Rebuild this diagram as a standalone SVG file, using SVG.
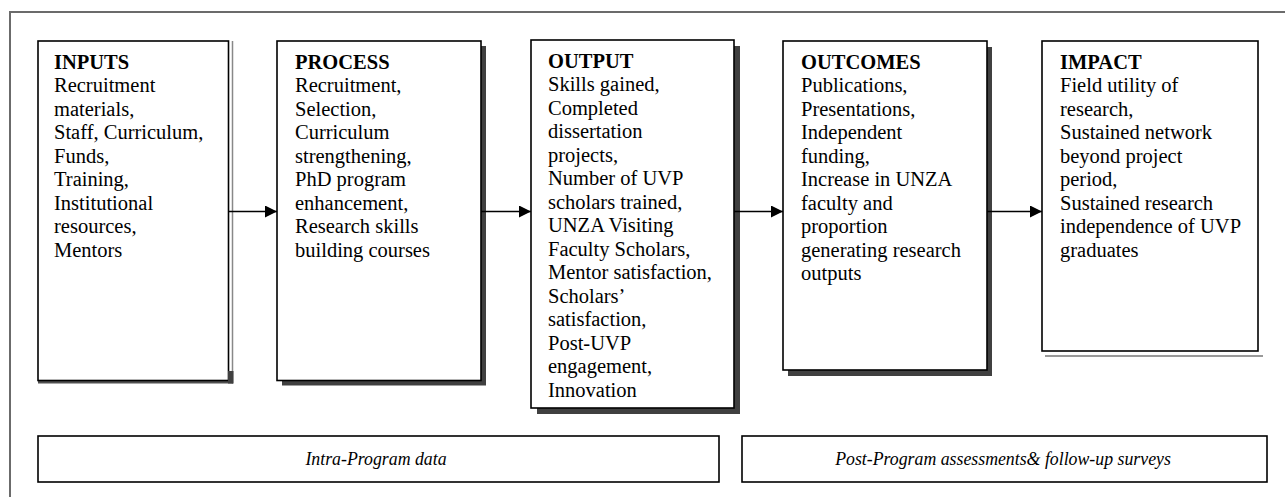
<svg xmlns="http://www.w3.org/2000/svg" width="1285" height="497" viewBox="0 0 1285 497">
<style>
.box{fill:#fff;stroke:#000;stroke-width:1.6}
.shadow{fill:#404040}
.t{font-family:"Liberation Serif","Times New Roman",serif;font-size:20.5px;fill:#000}
.h{font-weight:bold}
.lbl{font-family:"Liberation Serif","Times New Roman",serif;font-size:17.8px;font-style:italic;fill:#000}
.conn{stroke:#000;stroke-width:1.6;fill:none}
.frame{stroke:#6b6b6b;stroke-width:2;fill:none}
</style>
<defs>
<marker id="arr" viewBox="0 0 12 12" refX="12" refY="6" markerWidth="12" markerHeight="12" markerUnits="userSpaceOnUse" orient="auto">
<path d="M0,0 L12,6 L0,12 Z" fill="#000"/>
</marker>
</defs>
<rect width="1285" height="497" fill="#fff"/>
<path class="frame" d="M10,497 V12 H1285"/>

<g id="inputs">
<line x1="232.5" y1="41" x2="232.5" y2="383.5" stroke="#888" stroke-width="1.5"/>
<rect x="38" y="380" width="195" height="3.5" fill="#505050"/>
<rect x="38" y="41" width="190.5" height="339.5" class="box"/>
<rect x="228" y="371" width="5.5" height="12.5" fill="#404040"/>
<text class="t" x="54" y="68.5"><tspan class="h">INPUTS</tspan><tspan x="54" dy="23.5">Recruitment</tspan><tspan x="54" dy="23.5">materials,</tspan><tspan x="54" dy="23.5">Staff, Curriculum,</tspan><tspan x="54" dy="23.5">Funds,</tspan><tspan x="54" dy="23.5">Training,</tspan><tspan x="54" dy="23.5">Institutional</tspan><tspan x="54" dy="23.5">resources,</tspan><tspan x="54" dy="23.5">Mentors</tspan></text>
</g>

<g id="process">
<rect x="282" y="46" width="204" height="339.5" class="shadow"/>
<rect x="277" y="41" width="204" height="339.5" class="box"/>
<text class="t" x="295" y="68.5"><tspan class="h">PROCESS</tspan><tspan x="295" dy="23.5">Recruitment,</tspan><tspan x="295" dy="23.5">Selection,</tspan><tspan x="295" dy="23.5">Curriculum</tspan><tspan x="295" dy="23.5">strengthening,</tspan><tspan x="295" dy="23.5">PhD program</tspan><tspan x="295" dy="23.5">enhancement,</tspan><tspan x="295" dy="23.5">Research skills</tspan><tspan x="295" dy="23.5">building courses</tspan></text>
</g>

<g id="output">
<rect x="537" y="46" width="203" height="368" class="shadow"/>
<rect x="531" y="40" width="203" height="368" class="box"/>
<text class="t" x="548" y="67.5"><tspan class="h">OUTPUT</tspan><tspan x="548" dy="23.5">Skills gained,</tspan><tspan x="548" dy="23.5">Completed</tspan><tspan x="548" dy="23.5">dissertation</tspan><tspan x="548" dy="23.5">projects,</tspan><tspan x="548" dy="23.5">Number of UVP</tspan><tspan x="548" dy="23.5">scholars trained,</tspan><tspan x="548" dy="23.5">UNZA Visiting</tspan><tspan x="548" dy="23.5">Faculty Scholars,</tspan><tspan x="548" dy="23.5">Mentor satisfaction,</tspan><tspan x="548" dy="23.5">Scholars’</tspan><tspan x="548" dy="23.5">satisfaction,</tspan><tspan x="548" dy="23.5">Post-UVP</tspan><tspan x="548" dy="23.5">engagement,</tspan><tspan x="548" dy="23.5">Innovation</tspan></text>
</g>

<g id="outcomes">
<rect x="788" y="47" width="204" height="329" class="shadow"/>
<rect x="783" y="41" width="204" height="329" class="box"/>
<text class="t" x="801" y="68.5"><tspan class="h">OUTCOMES</tspan><tspan x="801" dy="23.5">Publications,</tspan><tspan x="801" dy="23.5">Presentations,</tspan><tspan x="801" dy="23.5">Independent</tspan><tspan x="801" dy="23.5">funding,</tspan><tspan x="801" dy="23.5">Increase in UNZA</tspan><tspan x="801" dy="23.5">faculty and</tspan><tspan x="801" dy="23.5">proportion</tspan><tspan x="801" dy="23.5">generating research</tspan><tspan x="801" dy="23.5">outputs</tspan></text>
</g>

<g id="impact">
<line x1="1045" y1="356" x2="1263" y2="356" stroke="#777" stroke-width="1.5"/>
<rect x="1042" y="41" width="216" height="310" class="box"/>
<text class="t" x="1060" y="68.5"><tspan class="h">IMPACT</tspan><tspan x="1060" dy="23.5">Field utility of</tspan><tspan x="1060" dy="23.5">research,</tspan><tspan x="1060" dy="23.5">Sustained network</tspan><tspan x="1060" dy="23.5">beyond project</tspan><tspan x="1060" dy="23.5">period,</tspan><tspan x="1060" dy="23.5">Sustained research</tspan><tspan x="1060" dy="23.5">independence of UVP</tspan><tspan x="1060" dy="23.5">graduates</tspan></text>
</g>

<g id="intra">
<rect x="38" y="436" width="681" height="46" class="box"/>
<text class="lbl" x="376" y="465" text-anchor="middle">Intra-Program data</text>
</g>

<g id="post">
<rect x="742" y="436" width="525" height="46" class="box"/>
<text class="lbl" x="1003" y="465" text-anchor="middle">Post-Program assessments&amp; follow-up surveys</text>
</g>

<g id="connectors">
<line class="conn" x1="229" y1="211.5" x2="277" y2="211.5" marker-end="url(#arr)"/>
<line class="conn" x1="481" y1="211.5" x2="531" y2="211.5" marker-end="url(#arr)"/>
<line class="conn" x1="734" y1="211.5" x2="783" y2="211.5" marker-end="url(#arr)"/>
<line class="conn" x1="987" y1="211.5" x2="1042" y2="211.5" marker-end="url(#arr)"/>
</g>
</svg>
